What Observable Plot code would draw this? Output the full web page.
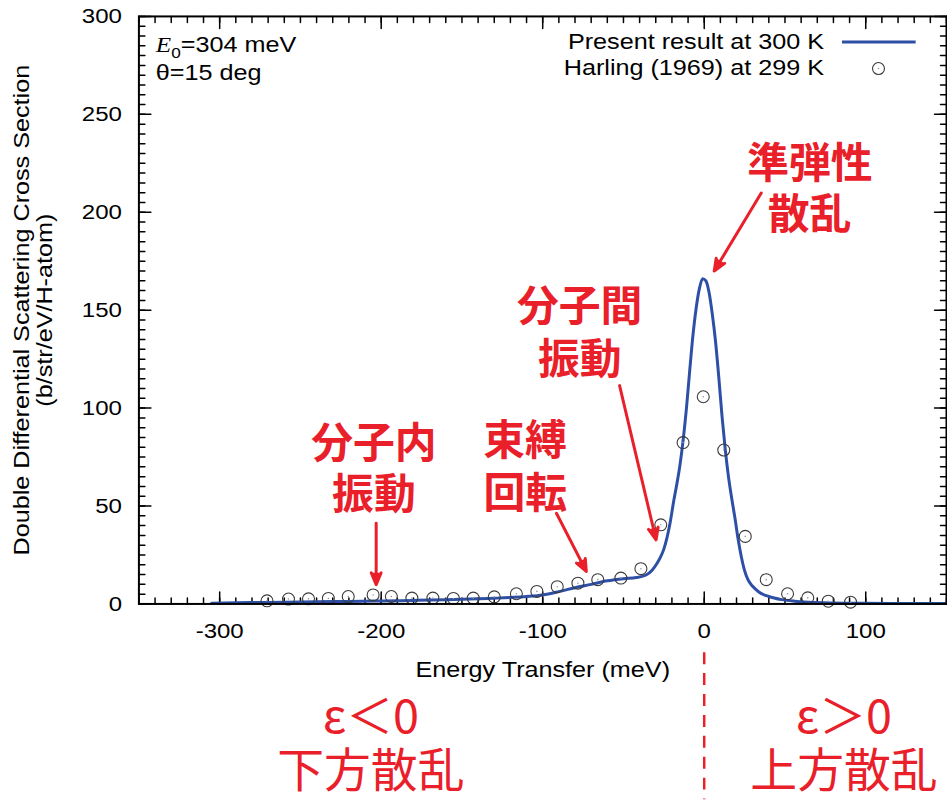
<!DOCTYPE html>
<html><head><meta charset="utf-8">
<script src="https://cdn.jsdelivr.net/npm/d3@7"></script>
<script src="https://cdn.jsdelivr.net/npm/@observablehq/plot@0.6"></script>
<style>
html,body{margin:0;padding:0;background:#fff;overflow:hidden;}
#chart{width:947px;height:800px;overflow:hidden;position:relative;}
</style></head><body><div id="chart"></div>
<script>
// ---- data ----
const curveE = [-305,-280,-260,-240,-220,-200,-180,-160,-140,-120,-110,-100,-90,-80,-70,-60,-50,-42,-36,-32,-29,-27,-25,-23,-21,-19,-17,-15,-13,-11,-9,-7,-5,-3,-1,1,3,5,7,9,11,13,15,17,19,21,23,25,27,30,34,40,48,56,65,80,100,125,150];
const curveS = [0.4,0.7,0.9,1.1,1.3,1.5,1.8,2.1,2.6,3.3,3.8,4.6,6.3,8.3,10.0,11.8,12.9,13.5,14.8,17.5,21,24,28,34,42,52,61,71,84,100,119,137,151,161,166,165,159,148,134,116,96,79,65,54,44,33,24,17,12.5,9,6,3.8,2.2,1.4,0.9,0.5,0.3,0.2,0.2];
const harlingE = [-270.7,-257.4,-245.0,-232.7,-220.4,-205.0,-193.7,-181.0,-168.0,-155.3,-143.0,-130.0,-116.3,-103.6,-91.0,-78.2,-65.9,-51.6,-39.2,-26.9,-13.1,-0.6,12.1,25.4,38.4,51.6,64.1,76.8,90.6];
const harlingS = [1.6,2.5,2.6,2.8,3.8,4.6,3.8,3.0,3.0,2.8,3.0,3.6,5.2,6.4,8.8,10.6,12.4,13.2,18.0,40.4,82.4,105.8,78.6,34.5,12.4,5.2,3.1,1.4,0.9];
const xTicks = [-300,-200,-100,0,100];
const yTicks = [0,50,100,150,200,250,300];
const seriesNames = ["Present result at 300 K", "Harling (1969) at 299 K"];
const xTitle = "Energy Transfer (meV)";
const yTitle = ["Double Differential Scattering Cross Section", "(b/str/eV/H-atom)"];
const infoLines = ["E0=304 meV", "θ=15 deg"];
const annotText = ["準弾性","散乱","分子間","振動","束縛","回転","分子内","振動"];
const annotX = [65.4,65.2,-77.1,-77.1,-111,-110.8,-204.5,-204.5];
const annotY = [224.2,198.3,151.5,124.2,82.9,55.9,81.4,55.2];
const arrowFrom = [[35.3,209.8],[-52.4,111.5],[-91.5,46.3],[-203.1,41.2]];
const arrowTo = [[6.2,170],[-29.8,32.7],[-73,16.6],[-203.1,9.8]];
const sideText = ["ε＜0","下方散乱","ε＞0","上方散乱"];
const sideX = [-206.4,-206.4,86.5,86.5];
const sideY = [-58,-86,-58,-86];

// ---- tables ----
const curve = curveE.map((e,i)=>({e, s: curveS[i]}));
const harling = harlingE.map((e,i)=>({e, s: harlingS[i]}));
const annots = annotText.map((t,i)=>({t, x: annotX[i], y: annotY[i]}));
const arrows = arrowFrom.map((a,i)=>({x1:a[0], y1:a[1], x2:arrowTo[i][0], y2:arrowTo[i][1]}));
const sides = sideText.map((t,i)=>({t, x: sideX[i], y: sideY[i]}));

const xMinor = d3.range(-350, 151, 10);
const yMinor = d3.range(0, 301, 5);
const RED = "#e9202a", BLUE = "#2d4fa6";
const tickShape = {draw(ctx, l){ ctx.moveTo(0,0); ctx.lineTo(0,-l); }};
const tk = (data, o) => Plot.vector(data, {anchor:"start", shape: tickShape, stroke:"black", strokeWidth:1.5, ...o});
const latin = "Liberation Sans, Arial, Helvetica, sans-serif";
const cjk = "'Noto Sans CJK JP', 'Noto Sans CJK SC', sans-serif";

const chart = Plot.plot({
  width: 951, height: 800,
  marginLeft: 139, marginRight: 1, marginTop: 16, marginBottom: 194,
  style: {fontFamily: latin, fontSize: "22px", background: "#fff", overflow: "visible"},
  x: {domain: [-350, 150], label: null},
  y: {domain: [0, 300], label: null},
  marks: [
    tk(xMinor, {x: d=>d, y: 0, length: 6, rotate: 0}),
    tk(xTicks, {x: d=>d, y: 0, length: 12, rotate: 0}),
    tk(xMinor, {x: d=>d, y: 300, length: 6, rotate: 180}),
    tk(xTicks, {x: d=>d, y: 300, length: 12, rotate: 180}),
    tk(yMinor, {x: -350, y: d=>d, length: 6, rotate: 90}),
    tk(yTicks, {x: -350, y: d=>d, length: 12, rotate: 90}),
    tk(yMinor, {x: 150, y: d=>d, length: 6, rotate: -90}),
    tk(yTicks, {x: 150, y: d=>d, length: 12, rotate: -90}),
    Plot.axisX({ticks: xTicks, tickSize: 0, tickPadding: 19, tickFormat: d=>String(d), fontSize: 21, label: null}),
    Plot.axisY({ticks: yTicks, tickSize: 0, tickPadding: 17, tickFormat: d=>String(d), fontSize: 21, label: null}),
    Plot.line(curve, {x: "e", y: "s", stroke: BLUE, strokeWidth: 3, curve: "monotone-x"}),
    Plot.dot(harling, {x: "e", y: "s", r: 6, stroke: "#3a3a3a", strokeWidth: 1.1, fill: "none"}),
    Plot.dot(harling, {x: "e", y: "s", r: 0.8, fill: "#999", stroke: null}),
    Plot.frame({stroke: "black", strokeWidth: 2}),
    // legend
    Plot.text([seriesNames[0]], {frameAnchor: "top-right", dx: -123, dy: 26, textAnchor: "end", lineAnchor: "middle", fontSize: 22}),
    Plot.text([seriesNames[1]], {frameAnchor: "top-right", dx: -123, dy: 52, textAnchor: "end", lineAnchor: "middle", fontSize: 22}),
    Plot.link([0], {x1: 85.3, x2: 130.9, y1: 287, y2: 287, stroke: BLUE, strokeWidth: 3}),
    Plot.dot([0], {x: 107.9, y: 273.4, r: 6, stroke: "#3a3a3a", strokeWidth: 1.1, fill: "none"}),
    Plot.dot([0], {x: 107.9, y: 273.4, r: 0.8, fill: "#999", stroke: null}),
    // info
    Plot.text([infoLines[0]], {frameAnchor: "top-left", dx: 17, dy: 29, textAnchor: "start", lineAnchor: "middle", fontSize: 22}),
    Plot.text([infoLines[1]], {frameAnchor: "top-left", dx: 17, dy: 57, textAnchor: "start", lineAnchor: "middle", fontSize: 22}),
    // axis titles
    Plot.text([xTitle], {frameAnchor: "bottom", dy: 66, lineAnchor: "middle", textAnchor: "middle", fontSize: 22}),
    Plot.text([yTitle[0]], {frameAnchor: "left", dx: -117, rotate: -90, textAnchor: "middle", lineAnchor: "middle", fontSize: 22}),
    Plot.text([yTitle[1]], {frameAnchor: "left", dx: -94, rotate: -90, textAnchor: "middle", lineAnchor: "middle", fontSize: 22}),
    // annotations
    Plot.arrow(arrows, {x1: "x1", y1: "y1", x2: "x2", y2: "y2", stroke: RED, fill: RED, strokeWidth: 3, headLength: 6.5, headAngle: 45}),
    Plot.text(annots, {x: "x", y: "y", text: "t", fill: RED, fontSize: 42, fontWeight: "bold", fontFamily: cjk}),
    Plot.ruleX([0], {y1: -24.9, y2: -100, stroke: RED, strokeWidth: 2.5, strokeDasharray: "12,9"}),
    Plot.text(sides, {x: "x", y: "y", text: "t", fill: RED, fontSize: 47, fontFamily: cjk})
  ]
});
document.getElementById("chart").appendChild(chart);

// E0 with italic E and subscript 0
d3.select(chart).selectAll("text").each(function(){
  if (this.textContent === infoLines[0]) {
    const el = d3.select(this); el.text(null);
    el.append("tspan").attr("font-family", "Liberation Serif, Times New Roman, serif").attr("font-style", "italic").text("E");
    el.append("tspan").attr("font-size", 15).attr("dy", 6).text("0");
    el.append("tspan").attr("dy", -6).text("=304 meV");
  }
});
// widen Latin texts slightly, as in the reference rendering
const CJK = /[\u3000-\u9fff\uff00-\uffef]/;
d3.select(chart).selectAll("text").each(function(){
  if (CJK.test(this.textContent)) return;
  const L = this.getComputedTextLength();
  if (L > 0) {
    this.setAttribute("textLength", (L * 1.15).toFixed(1));
    this.setAttribute("lengthAdjust", "spacingAndGlyphs");
  }
});
</script></body></html>
